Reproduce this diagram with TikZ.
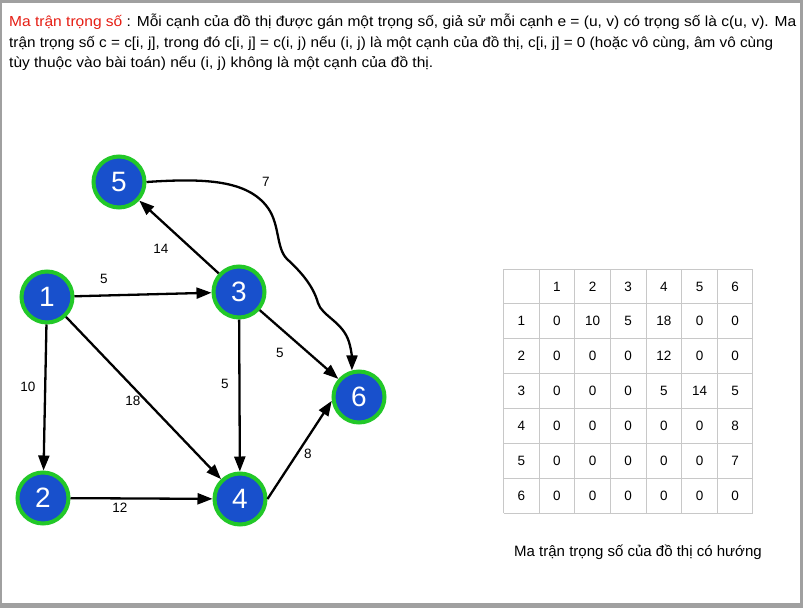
\documentclass[tikz,border=0pt]{standalone}
\usepackage{fontspec}
\setmainfont{Liberation Sans}
\usetikzlibrary{arrows.meta}
\definecolor{nodeblue}{RGB}{24,80,204}
\definecolor{ringgreen}{RGB}{34,200,40}
\definecolor{titlered}{RGB}{230,30,20}
\definecolor{gridgray}{RGB}{200,200,200}
\definecolor{framegray}{RGB}{160,160,160}
\begin{document}
\begin{tikzpicture}[x=1pt,y=-1pt,
  vtx/.style={circle, fill=nodeblue, draw=ringgreen, line width=4pt, minimum size=51pt, inner sep=0pt, text=white, font=\fontsize{28}{28}\selectfont},
  edge/.style={draw=black, line width=2.3pt, -{Triangle[length=15pt,width=11pt]}},
  wlabel/.style={font=\fontsize{13.5}{14}\selectfont, inner sep=0pt},
  cell/.style={font=\fontsize{13.5}{14}\selectfont, inner sep=0pt},
  headline/.style={anchor=base west, inner sep=0pt, font=\fontsize{14.5}{16}\selectfont},
  gridline/.style={draw=gridgray, line width=1pt}]
\useasboundingbox (0,0) rectangle (803,608);
% frame
\fill[framegray] (0,0) rectangle (803,608);
\fill[white] (1.5,3) rectangle (800,603);
% header text
\node[headline] (h1) at (9,26) {\resizebox{787pt}{\height}{\textcolor{titlered}{Ma trận trọng số} : Mỗi cạnh của đồ thị được gán một trọng số, giả sử mỗi cạnh e = (u, v) có trọng số là c(u, v). Ma}};
\node[headline] (h2) at (9,47) {\resizebox{764pt}{\height}{trận trọng số c = c[i, j], trong đó c[i, j] = c(i, j) nếu (i, j) là một cạnh của đồ thị, c[i, j] = 0 (hoặc vô cùng, âm vô cùng}};
\node[headline] (h3) at (9,67) {\resizebox{424pt}{\height}{tùy thuộc vào bài toán) nếu (i, j) không là một cạnh của đồ thị.}};
% vertices
\node[vtx] (n1) at (47,297) {1};
\node[vtx] (n2) at (43,498) {2};
\node[vtx] (n3) at (239,292) {3};
\node[vtx] (n4) at (240,499) {4};
\node[vtx] (n5) at (119,182) {5};
\node[vtx] (n6) at (359,397) {6};
% edges
\draw[edge] (n1) -- (n3);
\draw[edge] (n1) -- (n2);
\draw[edge] (n1) -- (n4);
\draw[edge] (n2) -- (n4);
\draw[edge] (n3) -- (n4);
\draw[edge] (n3) -- (n6);
\draw[edge] (n4.east) -- (n6.188);
\draw[edge] (n3) -- (n5);
\coordinate (k1) at (268,208);
\coordinate (k2) at (287,259);
\coordinate (k3) at (318,303);
\coordinate (k4) at (349,342);
\draw[edge] (n5.east) .. controls (205,178) and (248,180) .. (k1)
  .. controls (280,225) and (276,248) .. (k2)
  .. controls (300,271) and (313,285) .. (k3)
  .. controls (322,316) and (343,322) .. (k4)
  .. controls (352,352) and (352,360) .. (n6.105);
% weights
\node[wlabel] (w13) at (104,279) {5};
\node[wlabel] (w12) at (28,387) {10};
\node[wlabel] (w14) at (133,401) {18};
\node[wlabel] (w24) at (120,508) {12};
\node[wlabel] (w34) at (225,384) {5};
\node[wlabel] (w36) at (280,353) {5};
\node[wlabel] (w46) at (308,454) {8};
\node[wlabel] (w35) at (161,249) {14};
\node[wlabel] (w56) at (266,182) {7};
% table
\foreach \i in {0,...,7} {
  \draw[gridline] ({503.5+35.64*\i},269) -- ({503.5+35.64*\i},513);
  \draw[gridline] (503.5,{269+34.86*\i}) -- (753,{269+34.86*\i});
}
\foreach \c in {1,...,6}
  \node[cell] (hc\c) at ({503.5+35.64*(\c+0.5)},{269+34.86*0.5}) {\c};
\foreach \r/\row in {1/{0,10,5,18,0,0},2/{0,0,0,12,0,0},3/{0,0,0,5,14,5},4/{0,0,0,0,0,8},5/{0,0,0,0,0,7},6/{0,0,0,0,0,0}} {
  \node[cell] (hr\r) at ({503.5+35.64*0.5},{269+34.86*(\r+0.5)}) {\r};
  \foreach \v [count=\c] in \row
    \node[cell] (m\r\c) at ({503.5+35.64*(\c+0.5)},{269+34.86*(\r+0.5)}) {\v};
}
\node[font=\fontsize{15}{18}\selectfont, anchor=base, inner sep=0pt] (cap) at (638,556) {Ma trận trọng số của đồ thị có hướng};
\end{tikzpicture}
\end{document}
